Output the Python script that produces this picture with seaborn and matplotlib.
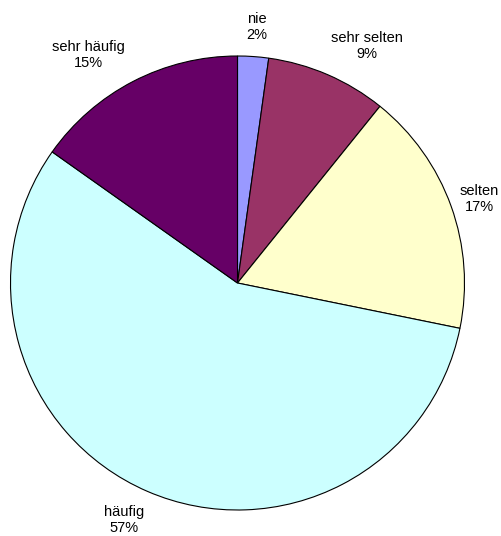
import matplotlib
matplotlib.use("Agg")
import matplotlib.pyplot as plt
import seaborn as sns

# Pie data (clockwise from 12 o'clock), shares in percent
categories = ["nie", "sehr selten", "selten", "häufig", "sehr häufig"]
shares = [2.2, 8.6, 17.4, 56.6, 15.2]
colors = ["#9999FF", "#993366", "#FFFFCC", "#CCFFFF", "#660066"]

# label centres in pie-radius units
label_xy = [(0.085, 1.126), (0.570, 1.044), (1.064, 0.370),
            (-0.501, -1.044), (-0.657, 1.006)]

sns.set_theme(style="white")
plt.rcParams['font.family'] = ['Liberation Sans', 'DejaVu Sans']

fig = plt.figure(figsize=(5.01, 5.36), dpi=100)
ax = fig.add_axes([0, 0, 1, 1])

palette = sns.color_palette(colors)
ax.pie(shares, colors=palette, startangle=90, counterclock=False,
       radius=1.0, wedgeprops=dict(edgecolor="black", linewidth=0.8))

total = sum(shares)
for name, val, (tx, ty) in zip(categories, shares, label_xy):
    ax.text(tx, ty, f"{name}\n{round(100 * val / total)}%", ha="center", va="center",
            fontsize=10.5, color="black", linespacing=1.2)

# map axes so that the pie sits where it does in the original
ax.set_xlim(-237.5 / 227, (501 - 237.5) / 227)
ax.set_ylim((283 - 536) / 227, 283 / 227)
ax.set_aspect("equal")
ax.axis("off")

fig.savefig("out.png", dpi=100, facecolor="white")
